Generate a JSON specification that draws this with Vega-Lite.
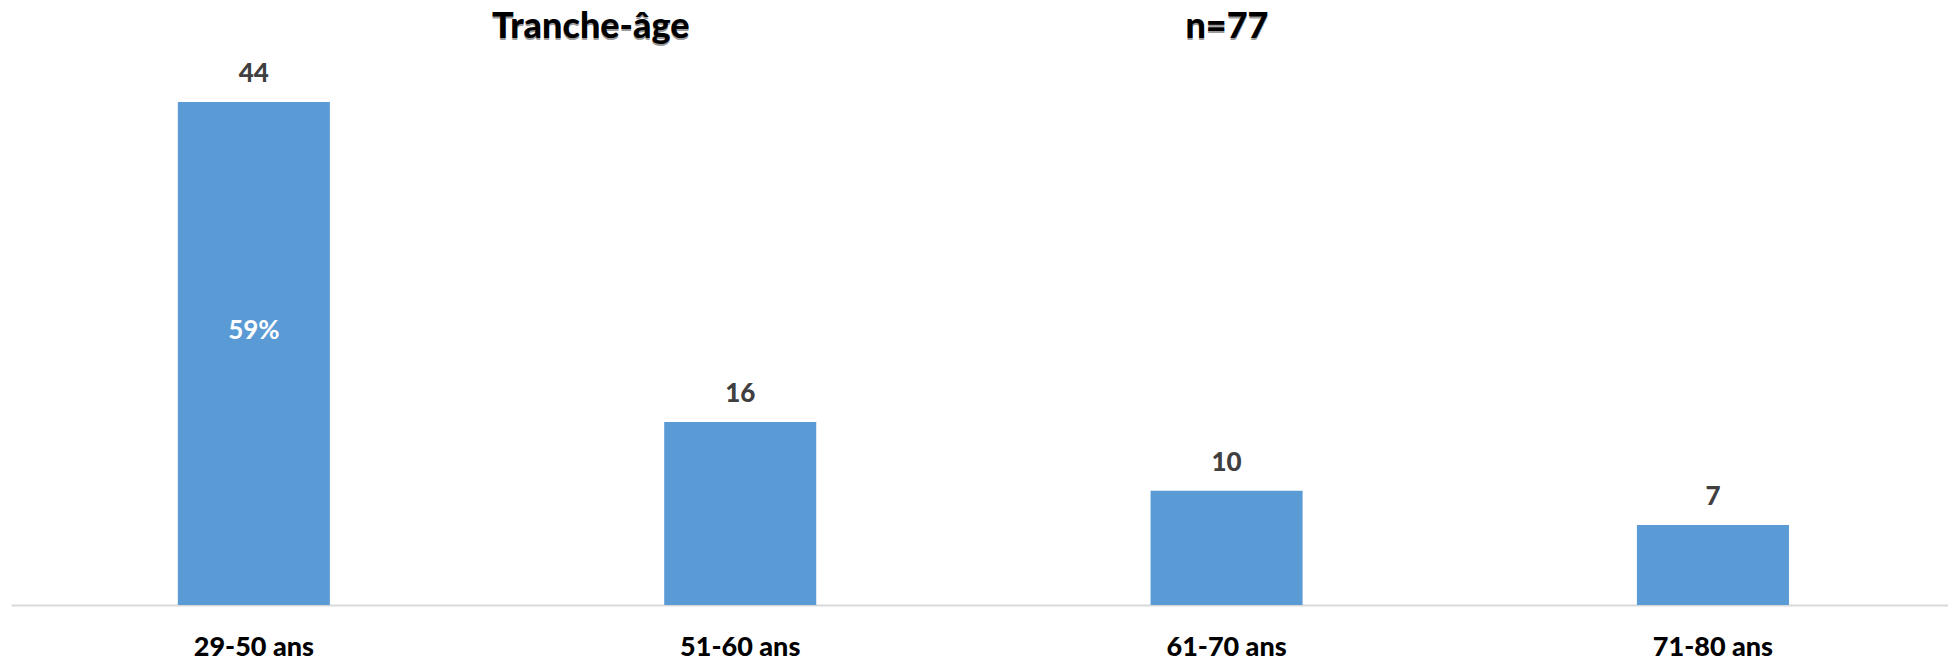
{
  "$schema": "https://vega.github.io/schema/vega-lite/v6.json",
  "autosize": {"type": "none"},
  "padding": {"left": 11, "top": 60, "right": 0, "bottom": 57},
  "width": 1937,
  "height": 545,
  "background": "white",
  "title": {
    "text": "Tranche-âge\u00a0\u00a0\u00a0\u00a0\u00a0\u00a0\u00a0\u00a0\u00a0\u00a0\u00a0\u00a0\u00a0\u00a0\u00a0\u00a0\u00a0\u00a0\u00a0\u00a0\u00a0\u00a0\u00a0\u00a0\u00a0\u00a0\u00a0\u00a0\u00a0\u00a0\u00a0\u00a0\u00a0\u00a0\u00a0\u00a0\u00a0\u00a0\u00a0\u00a0\u00a0\u00a0\u00a0\u00a0\u00a0\u00a0\u00a0\u00a0\u00a0\u00a0\u00a0\u00a0\u00a0\u00a0\u00a0\u00a0\u00a0\u00a0n=77",
    "subtitle": "Tranche-âge\u00a0\u00a0\u00a0\u00a0\u00a0\u00a0\u00a0\u00a0\u00a0\u00a0\u00a0\u00a0\u00a0\u00a0\u00a0\u00a0\u00a0\u00a0\u00a0\u00a0\u00a0\u00a0\u00a0\u00a0\u00a0\u00a0\u00a0\u00a0\u00a0\u00a0\u00a0\u00a0\u00a0\u00a0\u00a0\u00a0\u00a0\u00a0\u00a0\u00a0\u00a0\u00a0\u00a0\u00a0\u00a0\u00a0\u00a0\u00a0\u00a0\u00a0\u00a0\u00a0\u00a0\u00a0\u00a0\u00a0\u00a0\u00a0n=77",
    "anchor": "start",
    "frame": "group",
    "dx": 481,
    "offset": 10,
    "font": "Lato",
    "fontSize": 36,
    "fontWeight": 900,
    "color": "#9a9a9a",
    "subtitleFont": "Lato",
    "subtitleFontSize": 36,
    "subtitleFontWeight": 900,
    "subtitleColor": "#000000",
    "subtitlePadding": -38
  },
  "data": {
    "values": [
      {"tranche": "29-50 ans", "n": 44, "pct": "59%"},
      {"tranche": "51-60 ans", "n": 16, "pct": null},
      {"tranche": "61-70 ans", "n": 10, "pct": null},
      {"tranche": "71-80 ans", "n": 7, "pct": null}
    ]
  },
  "encoding": {
    "x": {
      "field": "tranche",
      "type": "nominal",
      "sort": null,
      "scale": {"paddingInner": 0.6874, "paddingOuter": 0.335, "align": 0.512},
      "axis": {
        "title": null,
        "labelAngle": 0,
        "ticks": false,
        "tickSize": 0,
        "grid": false,
        "domainColor": "#d9d9d9",
        "domainWidth": 2,
        "labelFont": "Lato",
        "labelFontSize": 27,
        "labelFontWeight": 900,
        "labelColor": "#000000",
        "labelBaseline": "alphabetic",
        "labelPadding": 50
      }
    }
  },
  "layer": [
    {
      "mark": {"type": "bar", "color": "#5b9bd5"},
      "encoding": {
        "y": {"field": "n", "type": "quantitative", "scale": {"domain": [0, 47.68], "nice": false}, "axis": null}
      }
    },
    {
      "mark": {"type": "text", "font": "Lato", "fontSize": 26, "fontWeight": 900, "color": "#404040", "baseline": "alphabetic", "dy": -20},
      "encoding": {
        "y": {"field": "n", "type": "quantitative"},
        "text": {"field": "n", "type": "quantitative"}
      }
    },
    {
      "transform": [{"filter": "datum.pct != null"}],
      "mark": {"type": "text", "font": "Lato", "fontSize": 26, "fontWeight": "bold", "color": "#ffffff", "baseline": "middle"},
      "encoding": {
        "y": {"datum": 24, "type": "quantitative"},
        "text": {"field": "pct", "type": "nominal"}
      }
    }
  ],
  "config": {"view": {"stroke": null}}
}
